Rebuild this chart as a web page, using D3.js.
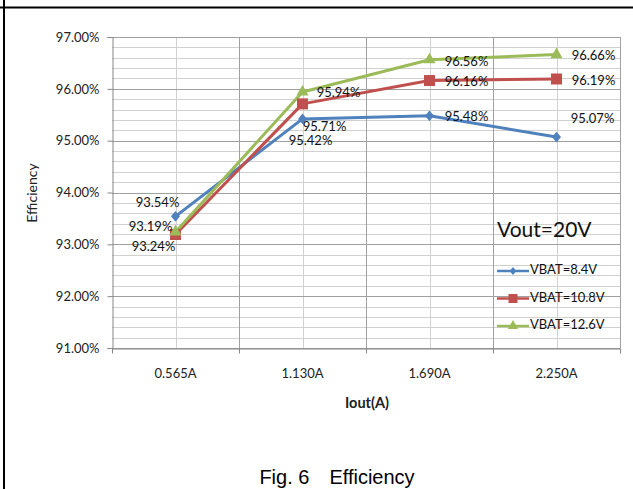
<!DOCTYPE html>
<html><head><meta charset="utf-8">
<script src="https://cdn.jsdelivr.net/npm/d3@7"></script>
<style>body{margin:0;background:#fff}svg{display:block}</style>
</head><body>
<script>
const categories = ["0.565A","1.130A","1.690A","2.250A"];
const seriesNames = ["VBAT=8.4V","VBAT=10.8V","VBAT=12.6V"];
const vbat84 = [93.54, 95.42, 95.48, 95.07];
const vbat108 = [93.19, 95.71, 96.16, 96.19];
const vbat126 = [93.24, 95.94, 96.56, 96.66];
const yTicks = [91,92,93,94,95,96,97];
const colors = ["#4F81BD","#C0504D","#9BBB59"];
const series = [vbat84, vbat108, vbat126];
// label offsets (dx, dy) relative to each point
const labelOff = [
  [[-18,-13],[8,23],[37,2],[36,-17]],
  [[-25,-7],[22,24],[37,2],[37,3]],
  [[-22,16],[36,2],[37,3],[37,2]]
];

const diamond = {draw(ctx,size){const w=Math.sqrt(size)/2*0.9,h=w*1.2;ctx.moveTo(0,-h);ctx.lineTo(w,0);ctx.lineTo(0,h);ctx.lineTo(-w,0);ctx.closePath();}};
const symbols = [diamond, d3.symbolSquare, d3.symbolTriangle];

const W=633,H=489;
const FONT="Lato, 'Open Sans', sans-serif";
const svg=d3.select("body").append("svg").attr("width",W).attr("height",H);
const pLeft=112,pRight=620,pTop=37,pBottom=348;
const x=d3.scaleBand().domain(categories).range([pLeft,pRight]);
const y=d3.scaleLinear().domain([91,97]).range([pBottom,pTop]);

// frame
svg.append("line").attr("x1",0).attr("x2",W).attr("y1",7.5).attr("y2",7.5).attr("stroke","#000").attr("stroke-width",2);
svg.append("line").attr("x1",4).attr("x2",4).attr("y1",0).attr("y2",H).attr("stroke","#000").attr("stroke-width",2);

const g=svg.append("g");
const minor=d3.range(91,97.001,0.2).filter(v=>Math.abs(v-Math.round(v))>0.01);
g.selectAll(".hmin").data(minor).join("line")
 .attr("x1",pLeft).attr("x2",pRight).attr("y1",d=>Math.round(y(d))+0.5).attr("y2",d=>Math.round(y(d))+0.5)
 .attr("stroke","#d0d0d0").attr("stroke-width",1);
g.selectAll(".vmin").data(categories).join("line")
 .attr("x1",d=>Math.round(x(d)+x.bandwidth()/2)+0.5).attr("x2",d=>Math.round(x(d)+x.bandwidth()/2)+0.5)
 .attr("y1",pTop).attr("y2",pBottom).attr("stroke","#d0d0d0");
g.selectAll(".vmaj").data(categories.slice(1)).join("line")
 .attr("x1",d=>Math.round(x(d))+0.5).attr("x2",d=>Math.round(x(d))+0.5)
 .attr("y1",pTop).attr("y2",pBottom).attr("stroke","#a0a0a0");
g.selectAll(".hmaj").data(yTicks).join("line")
 .attr("x1",pLeft).attr("x2",pRight).attr("y1",d=>Math.round(y(d))+0.5).attr("y2",d=>Math.round(y(d))+0.5)
 .attr("stroke","#a0a0a0");
g.append("line").attr("x1",pRight+0.5).attr("x2",pRight+0.5).attr("y1",pTop).attr("y2",pBottom).attr("stroke","#a0a0a0");

// Y axis
const yAxis=svg.append("g").attr("transform",`translate(${pLeft+0.5},0)`)
 .call(d3.axisLeft(y).tickValues(yTicks).tickSize(5).tickFormat(d=>d.toFixed(2)+"%"));
yAxis.select(".domain").attr("stroke","#868686");
yAxis.selectAll(".tick line").attr("stroke","#868686");
yAxis.selectAll(".tick text").attr("font-family",FONT).attr("font-size",13).attr("fill","#222").attr("x",-13);

// X axis
const xAxis=svg.append("g").attr("transform",`translate(0,${pBottom+0.5})`)
 .call(d3.axisBottom(x).tickSize(0).tickPadding(20));
xAxis.select(".domain").attr("stroke","#868686");
xAxis.selectAll(".tick text").attr("font-family",FONT).attr("font-size",13).attr("fill","#222");
const bounds=[pLeft,...categories.slice(1).map(c=>x(c)),pRight];
xAxis.selectAll(".bt").data(bounds).join("line").attr("x1",d=>Math.round(d)+0.5).attr("x2",d=>Math.round(d)+0.5)
 .attr("y1",0).attr("y2",5).attr("stroke","#868686");

// titles
svg.append("text").attr("x",367).attr("y",408).attr("text-anchor","middle")
 .attr("font-family",FONT).attr("font-weight","bold").attr("font-size",14.5).attr("fill","#222").text("Iout(A)");
svg.append("text").attr("transform","translate(37,193) rotate(-90)").attr("text-anchor","middle")
 .attr("font-family",FONT).attr("font-size",14).attr("fill","#222").text("Efficiency");
svg.append("text").attr("x",337).attr("y",484).attr("text-anchor","middle")
 .attr("font-family","'Liberation Sans', Arial, sans-serif").attr("font-size",20).attr("fill","#000").text("Fig. 6\u3000Efficiency");

// lines and markers
const cx=c=>x(c)+x.bandwidth()/2;
const line=d3.line().x((d,i)=>cx(categories[i])).y(d=>y(d));
series.forEach((s,si)=>{
  svg.append("path").attr("d",line(s)).attr("fill","none").attr("stroke",colors[si]).attr("stroke-width",3).attr("stroke-linejoin","round");
});
series.forEach((s,si)=>{
  const sz=[100,121,64][si];
  svg.selectAll(".m"+si).data(s).join("path")
   .attr("transform",(d,i)=>`translate(${cx(categories[i])},${y(d)})`)
   .attr("d",d3.symbol().type(symbols[si]).size(sz)).attr("fill",colors[si]);
});
// data labels
series.forEach((s,si)=>{
  svg.selectAll(".l"+si).data(s).join("text")
   .attr("x",(d,i)=>cx(categories[i])+labelOff[si][i][0])
   .attr("y",(d,i)=>y(d)+labelOff[si][i][1])
   .attr("text-anchor","middle").attr("dominant-baseline","middle")
   .attr("font-family",FONT).attr("font-size",13).attr("fill","#111")
   .text(d=>d.toFixed(2)+"%");
});

// annotation
svg.append("text").attr("x",497).attr("y",237).attr("font-family",FONT)
 .attr("font-size",21).attr("fill","#111").text("Vout=20V");

// legend
const lg=svg.append("g");
seriesNames.forEach((n,i)=>{
  const yy=271+i*27.5;
  lg.append("line").attr("x1",497).attr("x2",529).attr("y1",yy).attr("y2",yy).attr("stroke",colors[i]).attr("stroke-width",2.5);
  lg.append("path").attr("transform",`translate(513,${yy})`).attr("d",d3.symbol().type(symbols[i]).size([55,81,45][i])).attr("fill",colors[i]);
  lg.append("text").attr("x",530).attr("y",yy).attr("dominant-baseline","middle")
   .attr("font-family",FONT).attr("font-size",13).attr("fill","#111").text(n);
});
</script>
</body></html>
